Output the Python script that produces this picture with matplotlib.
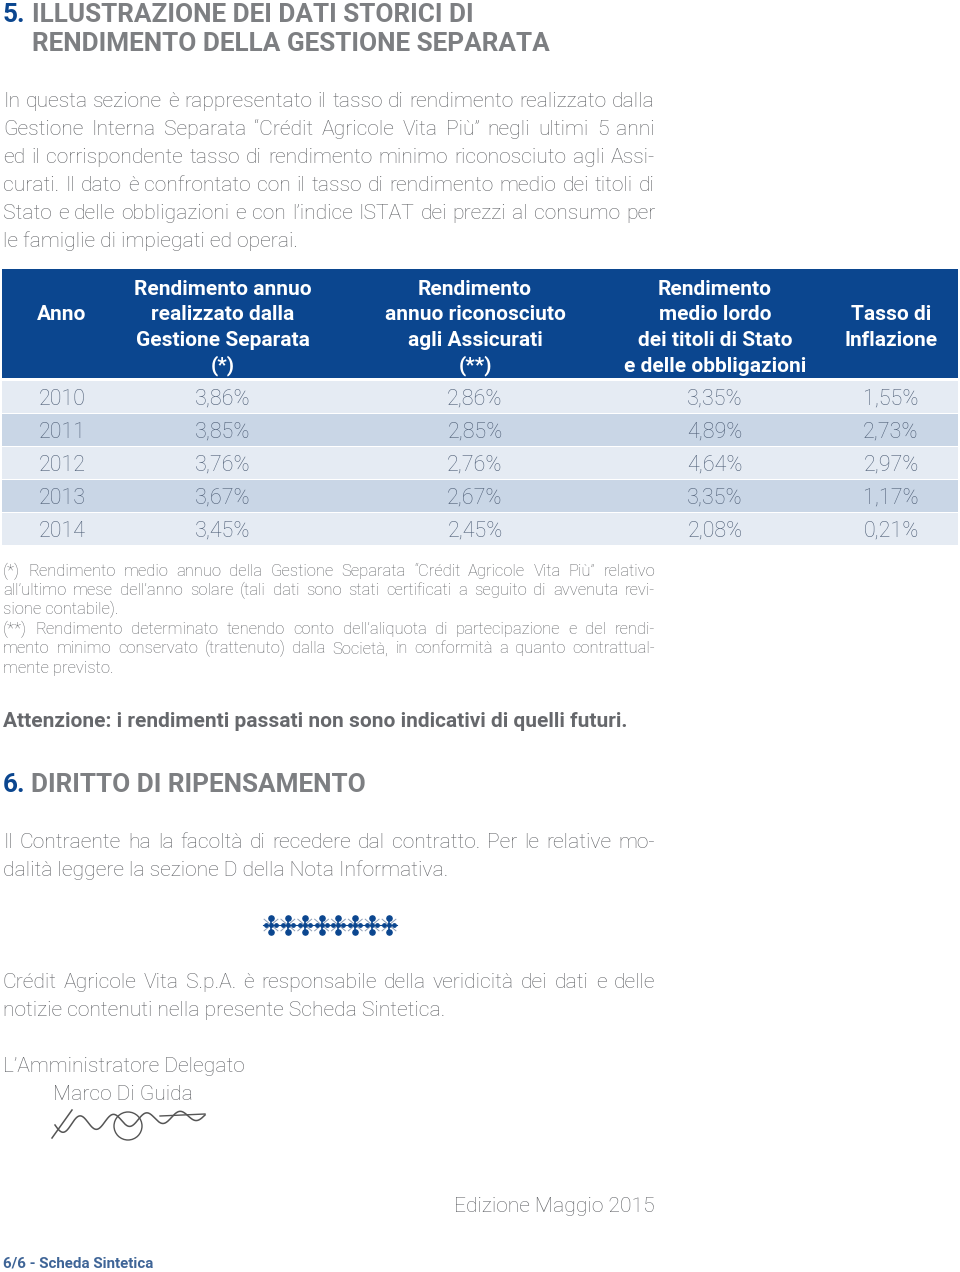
import matplotlib
matplotlib.use("Agg")
import matplotlib.pyplot as plt
import numpy as np

# --- table data ---
years = ["2010", "2011", "2012", "2013", "2014"]
gestione = ["3,86%", "3,85%", "3,76%", "3,67%", "3,45%"]
assicurati = ["2,86%", "2,85%", "2,76%", "2,67%", "2,45%"]
titoli_stato = ["3,35%", "4,89%", "4,64%", "3,35%", "2,08%"]
inflazione = ["1,55%", "2,73%", "2,97%", "1,17%", "0,21%"]
headers = [
    ["Anno"],
    ["Rendimento annuo", "realizzato dalla", "Gestione Separata", "(*)"],
    ["Rendimento", "annuo riconosciuto", "agli Assicurati", "(**)"],
    ["Rendimento", "medio lordo", "dei titoli di Stato", "e delle obbligazioni"],
    ["Tasso di", "Inflazione"],
]

intro = [
    "In questa sezione è rappresentato il tasso di rendimento realizzato dalla",
    "Gestione Interna Separata “Crédit Agricole Vita Più” negli ultimi 5 anni",
    "ed il corrispondente tasso di rendimento minimo riconosciuto agli Assi-",
    "curati. Il dato è confrontato con il tasso di rendimento medio dei titoli di",
    "Stato e delle obbligazioni e con l’indice ISTAT dei prezzi al consumo per",
    "le famiglie di impiegati ed operai.",
]
notes = [
    "(*) Rendimento medio annuo della Gestione Separata “Crédit Agricole Vita Più” relativo",
    "all’ultimo mese dell’anno solare (tali dati sono stati certificati a seguito di avvenuta revi-",
    "sione contabile).",
    "(**) Rendimento determinato tenendo conto dell’aliquota di partecipazione e del rendi-",
    "mento minimo conservato (trattenuto) dalla Società, in conformità a quanto contrattual-",
    "mente previsto.",
]
recesso = [
    "Il Contraente ha la facoltà di recedere dal contratto. Per le relative mo-",
    "dalità leggere la sezione D della Nota Informativa.",
]
firma = [
    "Crédit Agricole Vita S.p.A. è responsabile della veridicità dei dati e delle",
    "notizie contenuti nella presente Scheda Sintetica.",
]

BLUE = "#0b468f"
GREY = "#606266"
TITLE_GREY = "#7d7f82"
ROW_LIGHT = "#e5ebf3"
ROW_DARK = "#c9d6e6"
ROW_TEXT = "#4f5f77"
FONT = "Roboto"
BODY = 15.2

fig = plt.figure(figsize=(9.6, 12.72), dpi=100)
ax = fig.add_axes([0, 0, 1, 1])
ax.set_xlim(0, 960)
ax.set_ylim(1272, 0)
ax.axis("off")
renderer = fig.canvas.get_renderer()


def text_width(s, **kw):
    t = ax.text(0, 0, s, **kw)
    bb = t.get_window_extent(renderer)
    t.remove()
    return bb.width


def paragraph(lines, y0, dy, size, x0=3, x1=655, **kw):
    # justified block; lines closing a sentence stay left aligned
    kw = dict(family=FONT, fontsize=size, color=GREY, weight="light",
              va="baseline", **kw)
    natural = text_width("a a", **kw) - text_width("aa", **kw)
    for i, line in enumerate(lines):
        y = y0 + i * dy
        words = line.split(" ")
        widths = [text_width(w, **kw) for w in words]
        gap = (x1 - x0 - sum(widths)) / max(len(words) - 1, 1)
        if line.endswith(".") or len(words) == 1 or gap < natural * 0.6:
            ax.text(x0, y, line, **kw)
            continue
        gap = min(gap, natural * 3)
        x = x0
        for w, wd in zip(words, widths):
            ax.text(x, y, w, **kw)
            x += wd + gap


# --- section 5 title ---
ax.text(3, 22, "5.", family=FONT, fontsize=18.8, weight="bold", color=BLUE)
ax.text(32, 22, "ILLUSTRAZIONE DEI DATI STORICI DI", family=FONT, fontsize=18.8,
        weight="bold", color=TITLE_GREY)
ax.text(32, 51, "RENDIMENTO DELLA GESTIONE SEPARATA", family=FONT, fontsize=18.8,
        weight="bold", color=TITLE_GREY)

paragraph(intro, 107, 28, BODY)

# --- table ---
col_x = [62, 223, 475, 715, 891]
ax.add_patch(plt.Rectangle((2, 269), 956, 109, color=BLUE, lw=0))
for cx, lines in zip(col_x, headers):
    top = 295 if len(lines) == 4 else 320
    for k, s in enumerate(lines):
        ax.text(cx, top + 25.5 * k, s, family=FONT, fontsize=15, weight="bold",
                color="white", ha="center", va="baseline")

row_top = 381
row_h = 31.5
row_step = 33
columns = [years, gestione, assicurati, titoli_stato, inflazione]
for r in range(len(years)):
    y = row_top + r * row_step
    ax.add_patch(plt.Rectangle((2, y), 956, row_h,
                               color=ROW_LIGHT if r % 2 == 0 else ROW_DARK, lw=0))
    for cx, col in zip(col_x, columns):
        ax.text(cx, y + row_h / 2 + 8, col[r], family=FONT, fontsize=15.5,
                weight="light", color=ROW_TEXT, ha="center", va="baseline")

paragraph(notes, 576, 19.3, 12.0)

ax.text(3, 727, "Attenzione: i rendimenti passati non sono indicativi di quelli futuri.",
        family=FONT, fontsize=15, weight="bold", color="#66686c", va="baseline")

# --- section 6 ---
ax.text(3, 792, "6.", family=FONT, fontsize=18.8, weight="bold", color=BLUE,
        va="baseline")
ax.text(31, 792, "DIRITTO DI RIPENSAMENTO", family=FONT, fontsize=18.8,
        weight="bold", color=TITLE_GREY, va="baseline")
paragraph(recesso, 848, 28, BODY)

# ornament
for cx in np.linspace(271, 389, 8):
    for ang in (40, 140):
        a = np.radians(ang)
        ax.plot([cx - 9 * np.cos(a), cx + 9 * np.cos(a)],
                [925 - 9 * np.sin(a), 925 + 9 * np.sin(a)], color="#8a9bb5", lw=0.7)
    ax.plot([cx, cx], [917, 933], color=BLUE, lw=1.2)
    ax.scatter([cx, cx], [918, 932], s=14, color=BLUE, zorder=3)
    ax.scatter(cx + np.array([-5, 0, 5]), np.full(3, 925), s=6, color=BLUE, zorder=3)
    ax.plot([cx - 8, cx + 8], [925, 925], color=BLUE, lw=0.8)

paragraph(firma, 988, 28, BODY)
ax.text(3, 1072, "L’Amministratore Delegato", family=FONT, fontsize=BODY,
        weight="light", color=GREY, va="baseline")
ax.text(53, 1100, "Marco Di Guida", family=FONT, fontsize=BODY,
        weight="light", color=GREY, va="baseline")

# signature scribble
t = np.linspace(0, 1, 300)
sx = 55 + 150 * t
sy = 1125 + 8 * np.sin(t * 2 * np.pi * 4.5) * (1 - 0.4 * t) - 10 * t
ax.plot(sx, sy, color="#555", lw=1.1)
ax.add_patch(plt.Circle((128, 1126), 14, fill=False, color="#555", lw=1.0))
ax.plot([52, 72], [1138, 1110], color="#555", lw=1.1)
ax.plot([160, 205], [1116, 1114], color="#555", lw=1.0)

ax.text(655, 1212, "Edizione Maggio 2015", family=FONT, fontsize=BODY,
        weight="light", color=GREY, ha="right", va="baseline")
ax.text(3, 1268, "6/6 - Scheda Sintetica", family=FONT, fontsize=10.9,
        weight="bold", color="#3f6597", va="baseline")

fig.savefig("out.png", dpi=100)
